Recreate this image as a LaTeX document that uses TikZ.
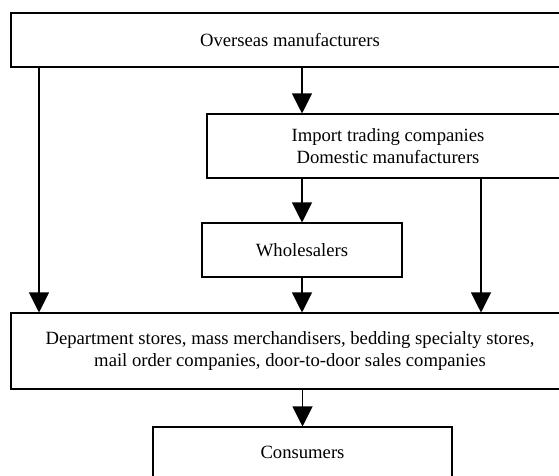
\documentclass[tikz,border=0pt]{standalone}
\usepackage{fontspec}
\setmainfont{Liberation Serif}
\usetikzlibrary{arrows.meta}

\begin{document}
\begin{tikzpicture}[x=0.75pt, y=-0.75pt, thick,
    box/.style={draw, rectangle, inner sep=0pt, align=center,
        font=\fontsize{14}{16.5}\selectfont},
    arr/.style={-{Triangle[length=15pt, width=15pt]}}]
    \useasboundingbox (0,0) rectangle (559,475);
    \clip (0,0) rectangle (559,475);

    \node[box, minimum width=418.5pt, minimum height=40.5pt] (over) at (290,40) {Overseas manufacturers};
    \node[box, minimum width=271.5pt, minimum height=48pt] (imp) at (388,146) {Import trading companies\\Domestic manufacturers};
    \node[box, minimum width=150pt, minimum height=40.5pt] (whole) at (302,250) {Wholesalers};
    \node[box, minimum width=418.5pt, minimum height=57pt] (retail) at (290,351) {Department stores, mass merchandisers, bedding specialty stores,\\mail order companies, door-to-door sales companies};
    \node[box, minimum width=224.25pt, minimum height=37.5pt] (cons) at (302.5,452) {Consumers};

    \coordinate (lx) at (39,0);
    \coordinate (rx) at (481,0);

    \draw[arr] (over.south -| lx) -- (retail.north -| lx);
    \draw[arr] (over.south -| whole) -- (imp.north -| whole);
    \draw[arr] (imp.south -| whole) -- (whole.north);
    \draw[arr] (whole.south) -- (retail.north -| whole);
    \draw[arr] (imp.south -| rx) -- (retail.north -| rx);
    \draw[arr] (retail.south -| cons) -- (cons.north);
\end{tikzpicture}
\end{document}
